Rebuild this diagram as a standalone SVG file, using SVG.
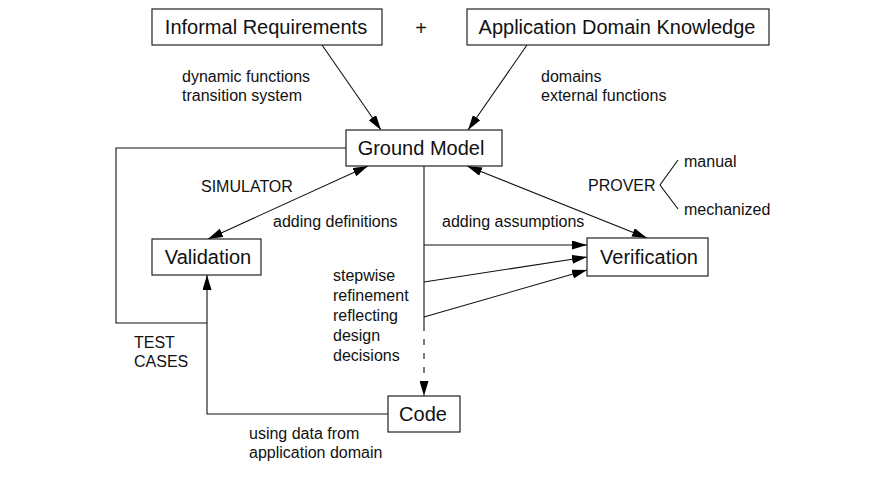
<svg xmlns="http://www.w3.org/2000/svg" width="886" height="485" viewBox="0 0 886 485">
<defs>
<style>
.box{fill:#fff;stroke:#222;stroke-width:1.2}
.lbl{font-family:"Liberation Sans",Arial,sans-serif;font-size:20px;fill:#111;text-anchor:middle}
.t{font-family:"Liberation Sans",Arial,sans-serif;font-size:16px;fill:#111}
.ln{fill:none;stroke:#111;stroke-width:1.1}
.dash{stroke-dasharray:6,8}
</style>
<marker id="ah" viewBox="0 0 15 9" refX="15" refY="4.5" markerWidth="15" markerHeight="9" markerUnits="userSpaceOnUse" orient="auto-start-reverse">
<path d="M0,0 L15,4.5 L0,9 z" fill="#000"/>
</marker>
</defs>
<rect width="886" height="485" fill="#fff"/>
<g id="connectors">
<line class="ln" x1="322" y1="45" x2="381" y2="130" marker-end="url(#ah)"/>
<line class="ln" x1="527" y1="45" x2="468" y2="130" marker-end="url(#ah)"/>
<line class="ln" x1="368" y1="166" x2="208" y2="239" marker-start="url(#ah)" marker-end="url(#ah)"/>
<line class="ln" x1="467" y1="166" x2="647" y2="238" marker-start="url(#ah)" marker-end="url(#ah)"/>
<polyline class="ln" points="346,148 116,148 116,323 207,323"/>
<polyline class="ln" points="388,414 207,414 207,275" marker-end="url(#ah)"/>
<line class="ln" x1="424" y1="166" x2="424" y2="325"/>
<line class="ln dash" x1="424" y1="325" x2="424" y2="396" marker-end="url(#ah)"/>
<line class="ln" x1="424" y1="245" x2="587" y2="245" marker-end="url(#ah)"/>
<line class="ln" x1="424" y1="282" x2="587" y2="257" marker-end="url(#ah)"/>
<line class="ln" x1="424" y1="317" x2="587" y2="270" marker-end="url(#ah)"/>
<polyline class="ln" points="678,160 660,185 678,209"/>
</g>
<g id="informal">
<rect class="box" x="152" y="9" width="230" height="36"/>
<text class="lbl" x="266" y="34">Informal Requirements</text>
</g>
<text class="lbl" x="421" y="35">+</text>
<g id="appdomain">
<rect class="box" x="467" y="9" width="302" height="36"/>
<text class="lbl" x="617" y="34">Application Domain Knowledge</text>
</g>
<g id="groundmodel">
<rect class="box" x="346" y="130" width="156" height="36"/>
<text class="lbl" x="421" y="155">Ground Model</text>
</g>
<g id="validation">
<rect class="box" x="152" y="239" width="109" height="36"/>
<text class="lbl" x="208" y="264">Validation</text>
</g>
<g id="verification">
<rect class="box" x="587" y="238" width="121" height="38"/>
<text class="lbl" x="649" y="264">Verification</text>
</g>
<g id="code">
<rect class="box" x="388" y="396" width="72" height="36"/>
<text class="lbl" x="423" y="421">Code</text>
</g>
<g id="labels">
<text class="t" x="182" y="82">dynamic functions</text>
<text class="t" x="182" y="101">transition system</text>
<text class="t" x="541" y="82">domains</text>
<text class="t" x="541" y="101">external functions</text>
<text class="t" x="201" y="192">SIMULATOR</text>
<text class="t" x="273" y="227">adding definitions</text>
<text class="t" x="442" y="227">adding assumptions</text>
<text class="t" x="588" y="191">PROVER</text>
<text class="t" x="684" y="167">manual</text>
<text class="t" x="684" y="215">mechanized</text>
<text class="t" x="333" y="281">stepwise</text>
<text class="t" x="333" y="301">refinement</text>
<text class="t" x="333" y="321">reflecting</text>
<text class="t" x="333" y="341">design</text>
<text class="t" x="333" y="361">decisions</text>
<text class="t" x="134" y="348">TEST</text>
<text class="t" x="134" y="367">CASES</text>
<text class="t" x="249" y="439">using data from</text>
<text class="t" x="249" y="458">application domain</text>
</g>
</svg>
